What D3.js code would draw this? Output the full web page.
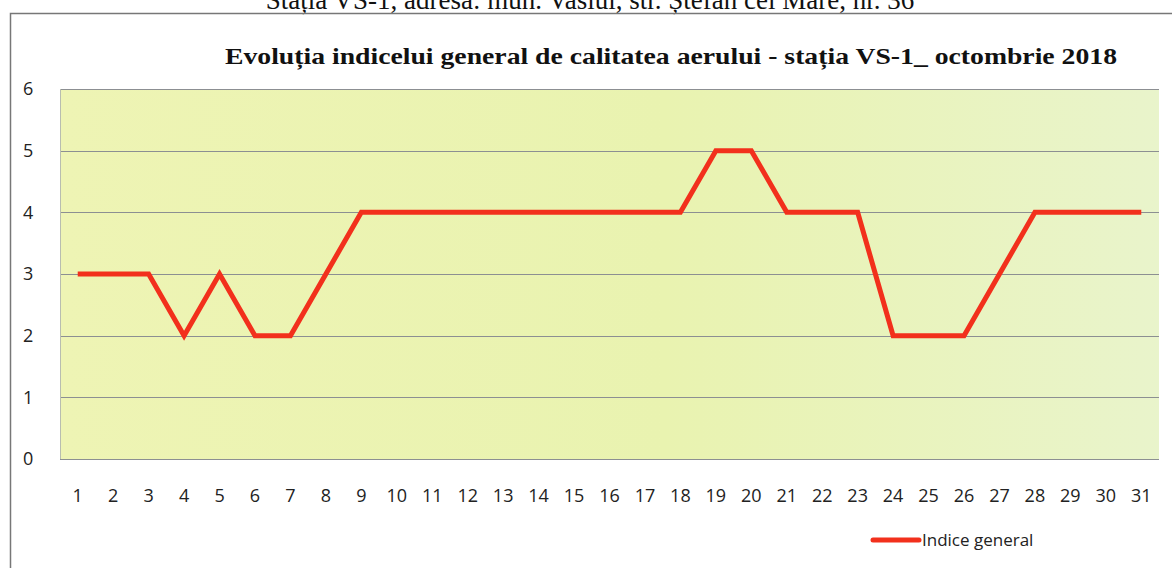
<!DOCTYPE html>
<html>
<head>
<meta charset="utf-8">
<script src="https://cdn.jsdelivr.net/npm/d3@7"></script>
<style>
  html, body { margin: 0; padding: 0; background: #fff; }
  svg { display: block; }
</style>
</head>
<body>
<div id="chart"></div>
<script>
const days = d3.range(1, 32).map(String);
const indiceGeneral = [3, 3, 3, 2, 3, 2, 2, 3, 4, 4, 4, 4, 4, 4, 4, 4, 4, 4, 5, 5, 4, 4, 4, 2, 2, 2, 3, 4, 4, 4, 4];
const yTicks = [0, 1, 2, 3, 4, 5, 6];
const seriesName = "Indice general";
const chartTitle = "Evoluția indicelui  general de calitatea aerului - stația VS-1_ octombrie 2018";
const pageHeading = "Stația VS-1, adresa: mun. Vaslui, str. Ștefan cel Mare, nr. 36";

const width = 1172, height = 568;
const margin = { top: 89, right: 13, bottom: 109, left: 60 };
const labelFont = "'Open Sans', 'Noto Sans', sans-serif";

const svg = d3.select("#chart").append("svg")
  .attr("width", width)
  .attr("height", height);

const defs = svg.append("defs");
const grad = defs.append("linearGradient").attr("id", "bg")
  .attr("x1", "0%").attr("x2", "100%").attr("y1", "0%").attr("y2", "0%");
grad.append("stop").attr("offset", "0%").attr("stop-color", "#eef4b4");
grad.append("stop").attr("offset", "55%").attr("stop-color", "#e9f3b0");
grad.append("stop").attr("offset", "100%").attr("stop-color", "#e9f4cb");

// page heading above the frame (the scan cuts its top)
svg.append("text")
  .attr("x", 590).attr("y", 9)
  .attr("text-anchor", "middle")
  .attr("font-family", "'Liberation Serif', serif")
  .attr("font-size", 27)
  .attr("fill", "#111")
  .text(pageHeading);

// outer frame
svg.append("path")
  .attr("d", `M10.5,${height} V13.5 H${width}`)
  .attr("fill", "none")
  .attr("stroke", "#777")
  .attr("stroke-width", 1.5);

svg.append("text")
  .attr("x", 225).attr("y", 64)
  .attr("textLength", 892)
  .attr("lengthAdjust", "spacingAndGlyphs")
  .attr("font-family", "'Liberation Serif', serif")
  .attr("font-weight", "bold")
  .attr("font-size", 24)
  .attr("fill", "#111")
  .text(chartTitle);

const x = d3.scaleBand()
  .domain(days)
  .range([margin.left, width - margin.right]);

const y = d3.scaleLinear()
  .domain([0, 6])
  .range([height - margin.bottom, margin.top]);

svg.append("rect")
  .attr("x", margin.left)
  .attr("y", margin.top)
  .attr("width", width - margin.left - margin.right)
  .attr("height", y(0) - y(6))
  .attr("fill", "url(#bg)");

// gridlines
svg.append("g")
  .selectAll("line")
  .data(yTicks)
  .join("line")
  .attr("x1", margin.left)
  .attr("x2", width - margin.right)
  .attr("y1", (d) => Math.round(y(d)) + 0.5)
  .attr("y2", (d) => Math.round(y(d)) + 0.5)
  .attr("stroke", "#8c8f92")
  .attr("stroke-width", 1);

svg.append("line")
  .attr("x1", margin.left + 0.5).attr("x2", margin.left + 0.5)
  .attr("y1", y(6)).attr("y2", y(0))
  .attr("stroke", "#b8bdb0");

// y labels
svg.append("g")
  .selectAll("text")
  .data(yTicks)
  .join("text")
  .attr("x", 23)
  .attr("y", (d) => y(d))
  .attr("dy", "0.36em")
  .attr("font-family", labelFont)
  .attr("font-size", 18)
  .attr("fill", "#222")
  .text((d) => d);

// x labels
svg.append("g")
  .selectAll("text")
  .data(days)
  .join("text")
  .attr("x", (d) => x(d) + x.bandwidth() / 2)
  .attr("y", 502)
  .attr("text-anchor", "middle")
  .attr("font-family", labelFont)
  .attr("font-size", 18)
  .attr("fill", "#222")
  .text((d) => d);

const line = d3.line()
  .x((d, i) => x(days[i]) + x.bandwidth() / 2)
  .y((d) => y(d));

svg.append("path")
  .datum(indiceGeneral)
  .attr("d", line)
  .attr("fill", "none")
  .attr("stroke", "#f2301c")
  .attr("stroke-width", 5)
  .attr("stroke-linejoin", "miter");

// legend
const legend = svg.append("g").attr("transform", "translate(873,540)");
legend.append("line")
  .attr("x1", 0).attr("x2", 46)
  .attr("stroke", "#f2301c")
  .attr("stroke-width", 5)
  .attr("stroke-linecap", "round");
legend.append("text")
  .attr("x", 49).attr("y", 0)
  .attr("dy", "0.35em")
  .attr("font-family", labelFont)
  .attr("font-size", 17)
  .attr("fill", "#222")
  .text(seriesName);
</script>
</body>
</html>
